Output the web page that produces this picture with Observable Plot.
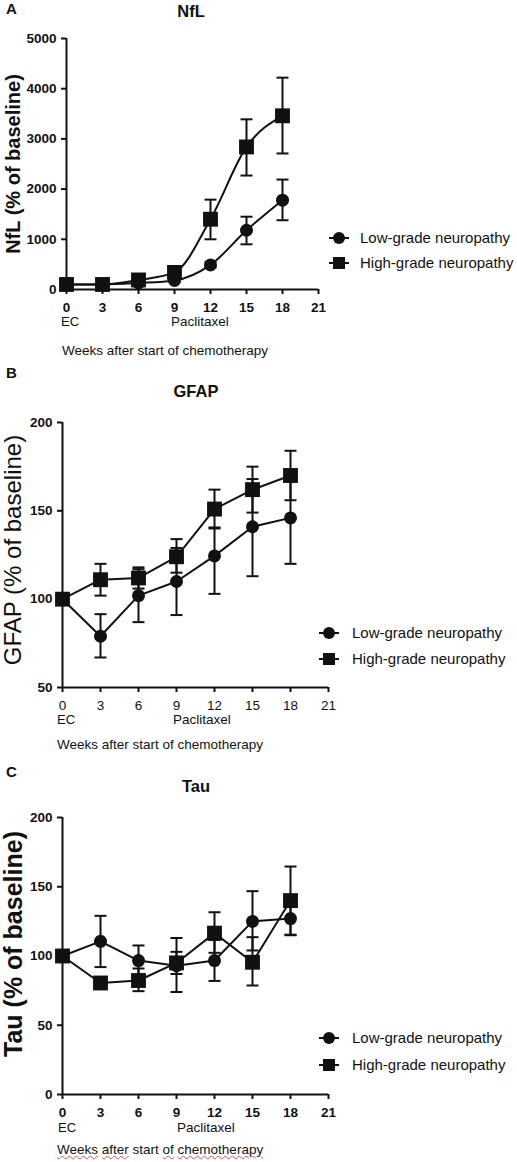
<!DOCTYPE html>
<html>
<head>
<meta charset="utf-8">
<script src="https://cdn.jsdelivr.net/npm/d3@7"></script>
<script src="https://cdn.jsdelivr.net/npm/@observablehq/plot@0.6"></script>
<style>
  html, body { margin: 0; padding: 0; background: #fff; }
  #root { position: relative; width: 517px; height: 1162px; font-family: "Liberation Sans", Arial, sans-serif; color: #111; overflow: hidden; }
  .lbl { position: absolute; white-space: nowrap; line-height: 1.15; }
  .sq { text-decoration: underline wavy #e05050; text-decoration-thickness: 1px; text-underline-offset: 1px; }
</style>
</head>
<body>
<div id="root"></div>
<script>
// ---- data ----
const weeks = [0, 3, 6, 9, 12, 15, 18];
const groups = ["Low-grade neuropathy", "High-grade neuropathy"];
const xTicks = [0, 3, 6, 9, 12, 15, 18, 21];

const nflLow    = [100, 100, 130, 180, 490, 1180, 1780];
const nflLowLo  = [100, 95, 115, 160, 440, 900, 1380];
const nflLowHi  = [100, 105, 145, 200, 540, 1450, 2190];
const nflHigh   = [100, 100, 190, 340, 1400, 2840, 3460];
const nflHighLo = [100, 90, 160, 290, 1000, 2270, 2710];
const nflHighHi = [100, 110, 220, 390, 1790, 3390, 4220];
const nflTicks  = [0, 1000, 2000, 3000, 4000, 5000];

const gfapLow    = [100, 79, 102, 110, 124.5, 141, 146];
const gfapLowLo  = [100, 67, 87, 91, 103, 113, 120];
const gfapLowHi  = [100, 91.5, 117, 129, 140, 168, 172];
const gfapHigh   = [100, 111, 112, 124, 151, 162, 170];
const gfapHighLo = [100, 102, 106, 115, 140.6, 149, 156];
const gfapHighHi = [100, 120, 118, 134, 162, 175, 184];
const gfapTicks  = [50, 100, 150, 200];

const tauLow    = [100, 110.6, 96.7, 93, 96.7, 125, 127];
const tauLowLo  = [100, 92, 86, 74, 82, 104, 115];
const tauLowHi  = [100, 129, 107.6, 113, 111.6, 146.8, 139];
const tauHigh   = [100, 80.5, 82.3, 95, 116.5, 95.5, 140];
const tauHighLo = [100, 77, 74.6, 87, 102.3, 78.7, 115.4];
const tauHighHi = [100, 84, 91, 103, 131.6, 113.6, 164.6];
const tauTicks  = [0, 50, 100, 150, 200];

function rows(low, lowLo, lowHi, high, highLo, highHi) {
  const out = [];
  weeks.forEach((w, i) => out.push({week: w, group: groups[0], v: low[i], lo: lowLo[i], hi: lowHi[i]}));
  weeks.forEach((w, i) => out.push({week: w, group: groups[1], v: high[i], lo: highLo[i], hi: highHi[i]}));
  return out;
}

const capSymbol = {
  draw(ctx, size) {
    const h = Math.sqrt(size / Math.PI);
    ctx.moveTo(-h, 0); ctx.lineTo(h, 0);
  }
};

const FONT = '"Liberation Sans", Arial, sans-serif';
const root = document.getElementById("root");
function label(text, x, y, opts = {}) {
  const d = document.createElement("div");
  d.className = "lbl";
  if (opts.html) d.innerHTML = text; else d.textContent = text;
  d.style.left = x + "px";
  d.style.top = y + "px";
  d.style.fontSize = (opts.size || 13) + "px";
  d.style.fontWeight = opts.bold ? "bold" : "normal";
  let tf = "";
  if (opts.center) tf = "translate(-50%,-50%)";
  else tf = "translate(0,-50%)";
  if (opts.rotate) tf = "translate(-50%,-50%) rotate(-90deg)";
  d.style.transform = tf;
  root.appendChild(d);
  return d;
}
function legendItem(symbol, cx, cy, text, textX) {
  const s = document.createElementNS("http://www.w3.org/2000/svg", "svg");
  s.setAttribute("width", 30); s.setAttribute("height", 20);
  s.style.position = "absolute";
  s.style.left = (cx - 15) + "px"; s.style.top = (cy - 10) + "px";
  let m = symbol === "circle"
    ? '<circle cx="15" cy="10" r="6" fill="#111"/>'
    : '<rect x="9" y="4" width="12" height="12" fill="#111"/>';
  s.innerHTML = '<line x1="5" x2="25" y1="10" y2="10" stroke="#111" stroke-width="2"/>' + m;
  root.appendChild(s);
  label(text, textX, cy, {size: 15});
}

function panel(cfg) {
  const data = rows(...cfg.series);
  const y0 = cfg.domain[0];
  const plot = Plot.plot({
    width: 517,
    height: cfg.bottom - cfg.top + 70,
    marginTop: 30, marginBottom: 40,
    marginLeft: cfg.left, marginRight: 517 - cfg.right,
    style: {fontFamily: FONT, color: "#111", background: "transparent"},
    x: {domain: [0, 21]},
    y: {domain: cfg.domain},
    marks: [
      Plot.axisX({ticks: xTicks, tickSize: 5, tickFormat: () => "", strokeWidth: 2, label: null}),
      Plot.axisY({ticks: cfg.yTicks, tickSize: 5, tickFormat: () => "", strokeWidth: 2, label: null}),
      Plot.text(xTicks, {x: d => d, y: () => y0, dy: 18, text: d => String(d),
        fontSize: 13.5, fontWeight: cfg.xBold ? "bold" : "normal", fontFamily: FONT, fill: "#111"}),
      Plot.text(cfg.yTicks, {x: () => 0, y: d => d, dx: -10, textAnchor: "end", text: d => String(d),
        fontSize: 13.5, fontWeight: "bold", fontFamily: FONT, fill: "#111"}),
      Plot.ruleX([0], {stroke: "#111", strokeWidth: 2}),
      Plot.ruleY([y0], {stroke: "#111", strokeWidth: 2}),
      Plot.line(data, {x: "week", y: "v", z: "group", stroke: "#111", strokeWidth: 2, curve: cfg.curve}),
      Plot.ruleX(data, {x: "week", y1: "lo", y2: "hi", stroke: "#111", strokeWidth: 2}),
      Plot.dot(data, {x: "week", y: "lo", symbol: capSymbol, r: 6, stroke: "#111", fill: "none", strokeWidth: 2}),
      Plot.dot(data, {x: "week", y: "hi", symbol: capSymbol, r: 6, stroke: "#111", fill: "none", strokeWidth: 2}),
      Plot.dot(data.filter(d => d.group === groups[1]), {x: "week", y: "v", symbol: "square", r: 8.4, fill: "#111", stroke: "none"}),
      Plot.dot(data.filter(d => d.group === groups[0]), {x: "week", y: "v", symbol: "circle", r: 6.5, fill: "#111", stroke: "none"})
    ]
  });
  plot.style.position = "absolute";
  plot.style.left = "0px";
  plot.style.top = (cfg.top - 30) + "px";
  root.appendChild(plot);

  const lab = cfg.labels;
  label(cfg.letter, 6, lab.letterY, {size: 15, bold: true});
  label(cfg.title, lab.titleX, lab.titleY, {size: 16.5, bold: true, center: true});
  label(cfg.yTitle, 13, (cfg.top + cfg.bottom) / 2 + lab.yTitleShift, {size: lab.yTitleSize, bold: lab.yTitleBold, rotate: true});
  label("EC", lab.ecX, lab.ecY, {size: 13});
  label("Paclitaxel", lab.pacX, lab.ecY, {size: 13.5});
  label(lab.weeksHtml, lab.weeksX, lab.weeksY, {size: 13.5, html: true});
  legendItem("circle", lab.legX, lab.legY1, groups[0], lab.legTextX);
  legendItem("square", lab.legX, lab.legY2, groups[1], lab.legTextX);
}

const weeksPlain = "Weeks after start of chemotherapy";
const weeksSquiggle = '<span class="sq">Weeks</span> <span class="sq">after</span> start <span class="sq">of</span> <span class="sq">chemotherapy</span>';

panel({
  letter: "A", title: "NfL", yTitle: "NfL (% of baseline)",
  series: [nflLow, nflLowLo, nflLowHi, nflHigh, nflHighLo, nflHighHi],
  domain: [0, 5000], yTicks: nflTicks, curve: "monotone-x", xBold: true,
  top: 38, bottom: 289, left: 66, right: 318,
  labels: {letterY: 9, titleX: 191, titleY: 11, yTitleShift: 0, yTitleSize: 20, yTitleBold: true,
    ecX: 61, ecY: 322, pacX: 171, weeksX: 62, weeksY: 351, weeksHtml: weeksPlain,
    legX: 339, legY1: 238, legY2: 263, legTextX: 360}
});

panel({
  letter: "B", title: "GFAP", yTitle: "GFAP (% of baseline)",
  series: [gfapLow, gfapLowLo, gfapLowHi, gfapHigh, gfapHighLo, gfapHighHi],
  domain: [50, 200], yTicks: gfapTicks, curve: "linear", xBold: false,
  top: 422, bottom: 687, left: 62, right: 328,
  labels: {letterY: 373, titleX: 196, titleY: 391, yTitleShift: -5, yTitleSize: 24, yTitleBold: false,
    ecX: 57, ecY: 720, pacX: 173, weeksX: 57, weeksY: 745, weeksHtml: weeksPlain,
    legX: 329, legY1: 633, legY2: 659, legTextX: 352}
});

panel({
  letter: "C", title: "Tau", yTitle: "Tau (% of baseline)",
  series: [tauLow, tauLowLo, tauLowHi, tauHigh, tauHighLo, tauHighHi],
  domain: [0, 200], yTicks: tauTicks, curve: "linear", xBold: true,
  top: 817, bottom: 1094, left: 62, right: 328,
  labels: {letterY: 772, titleX: 196, titleY: 786, yTitleShift: -12, yTitleSize: 25, yTitleBold: true,
    ecX: 58, ecY: 1128, pacX: 177, weeksX: 57, weeksY: 1150, weeksHtml: weeksSquiggle,
    legX: 329, legY1: 1038, legY2: 1065, legTextX: 352}
});
</script>
</body>
</html>
